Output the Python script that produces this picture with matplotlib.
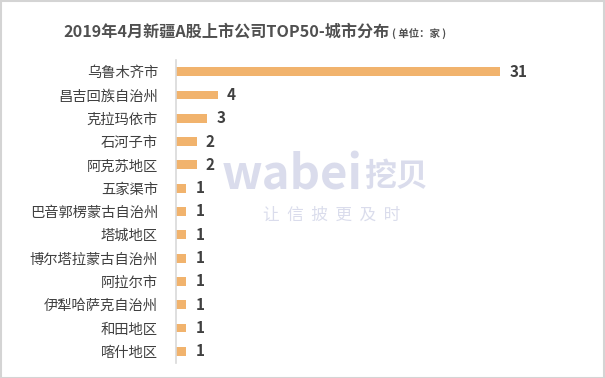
import matplotlib.pyplot as plt
from matplotlib.patches import Rectangle

plt.rcParams['font.family'] = ['Noto Sans CJK SC', 'DejaVu Sans']

cities = ['乌鲁木齐市', '昌吉回族自治州', '克拉玛依市', '石河子市', '阿克苏地区', '五家渠市',
          '巴音郭楞蒙古自治州', '塔城地区', '博尔塔拉蒙古自治州', '阿拉尔市',
          '伊犁哈萨克自治州', '和田地区', '喀什地区']
counts = [31, 4, 3, 2, 2, 1, 1, 1, 1, 1, 1, 1, 1]

W, H = 605, 378
fig = plt.figure(figsize=(W / 100, H / 100), dpi=100)
ax = fig.add_axes([176 / W, 1 - 363 / H, 364 / W, 303 / H])

y = list(range(len(cities)))
ax.barh(y, counts, height=0.38, color='#F1B36D')
ax.set_ylim(len(cities) - 0.5, -0.5)
ax.set_xlim(0, 34.8)

ax.set_yticks(y)
ax.set_yticklabels(cities, fontsize=10.3, color='#404040')
ax.tick_params(axis='y', length=0, pad=13)
ax.set_xticks([])
for s in ['top', 'right', 'bottom']:
    ax.spines[s].set_visible(False)
ax.spines['left'].set_color('#D9D9D9')
ax.spines['left'].set_linewidth(1.2)

for yi, v in zip(y, counts):
    ax.text(v + 0.85, yi, str(v), va='center', ha='left', fontsize=11,
            fontweight='bold', color='#404040')

r = fig.canvas.get_renderer()

# title
t = fig.text(63 / W, 1 - 32 / H, '2019年4月新疆A股上市公司TOP50-城市分布', fontsize=11.6,
             fontweight='bold', color='#505050', ha='left', va='center')
x1 = t.get_window_extent(r).x1
fig.text((x1 + 3) / W, 1 - 34 / H, '( 单位：家 )', fontsize=7.5, fontweight='bold',
         color='#505050', ha='left', va='center')

# watermark
w = fig.text(222 / W, 1 - 176 / H, 'wabei', fontsize=34, fontweight='bold',
             color='#D6D9EA', ha='left', va='center', alpha=0.9)
w.set_fontstretch('condensed')
wx1 = w.get_window_extent(r).x1
fig.text((wx1 + 1) / W, 1 - 177 / H, '挖贝', fontsize=23, fontweight='bold',
         color='#D6D9EA', ha='left', va='center', alpha=0.9)
fig.text(332 / W, 1 - 215 / H, '让  信  披  更  及  时', fontsize=12,
         color='#D6D9EA', ha='center', va='center', alpha=0.9)

# frame
fig.patches.append(Rectangle((0.5 / W, 0.5 / H), 1 - 1.5 / W, 1 - 1.5 / H,
                             transform=fig.transFigure, fill=False,
                             edgecolor='#D4D4D4', linewidth=1.5))

fig.savefig('out.png', dpi=100)
